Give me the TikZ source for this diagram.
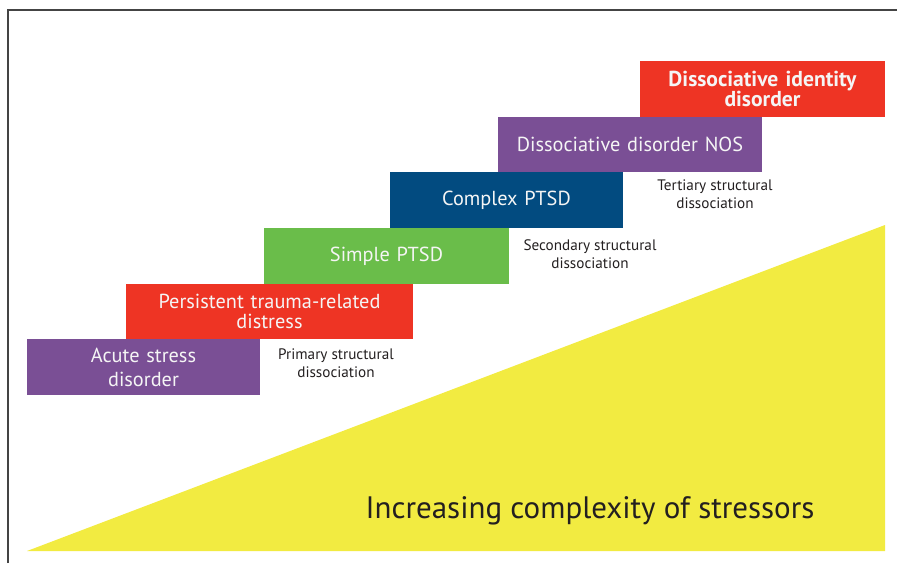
\documentclass[tikz,border=0pt]{standalone}
\usepackage{fontspec}
\setmainfont{PT Sans}
\definecolor{cpurple}{HTML}{7A4F95}
\definecolor{cred}{HTML}{EE3424}
\definecolor{cgreen}{HTML}{6ABD4A}
\definecolor{cblue}{HTML}{024B80}
\definecolor{cyellow}{HTML}{F2EB41}
\definecolor{ctext}{HTML}{231F20}
\definecolor{cframe}{HTML}{444444}
\tikzset{
  stepbox/.style={anchor=north west, inner sep=0pt, outer sep=0pt, text=white!96!black,
    align=center, font=\fontsize{20.3}{20}\selectfont},
  lbl/.style={align=center, text=ctext, font=\fontsize{15.2}{18}\selectfont, inner sep=0pt}
}
\begin{document}
\begin{tikzpicture}[x=1pt,y=-1pt]
\useasboundingbox (0,0) rectangle (897,563);
\draw[cframe, line width=1.5pt] (8,563) -- (8,10) -- (897,10);
\fill[cyellow] (27,551) -- (885,225) -- (885,551) -- cycle;
\node[stepbox, fill=cpurple, minimum width=233pt, minimum height=56pt, text width=233pt, font=\fontsize{20.3}{24}\selectfont] (asd) at (27,339) {Acute stress\\disorder};
\node[stepbox, fill=cred, minimum width=287pt, minimum height=55pt, text width=287pt] (ptrd) at (126,284) {Persistent trauma-related\\distress};
\node[stepbox, fill=cgreen, minimum width=245pt, minimum height=56pt, text width=245pt] (simple) at (264,228) {Simple PTSD};
\node[stepbox, fill=cblue, minimum width=233pt, minimum height=56pt, text width=233pt] (complex) at (390,172) {Complex PTSD};
\node[stepbox, fill=cpurple, minimum width=264pt, minimum height=55pt, text width=264pt] (nos) at (498,117) {Dissociative disorder NOS};
\node[stepbox, fill=cred, minimum width=245pt, minimum height=56pt, text width=245pt, font=\fontsize{21.6}{20.5}\selectfont\bfseries] (did) at (640,61) {Dissociative identity\\disorder};
\node[lbl] (primary) at (336,363) {Primary structural\\dissociation};
\node[lbl] (secondary) at (590,254) {Secondary structural\\dissociation};
\node[lbl] (tertiary) at (715,194) {Tertiary structural\\dissociation};
\node[anchor=base, inner sep=0pt, text=ctext, font=\fontsize{31}{31}\selectfont] (title) at (590,518) {Increasing complexity of stressors};
\end{tikzpicture}
\end{document}
